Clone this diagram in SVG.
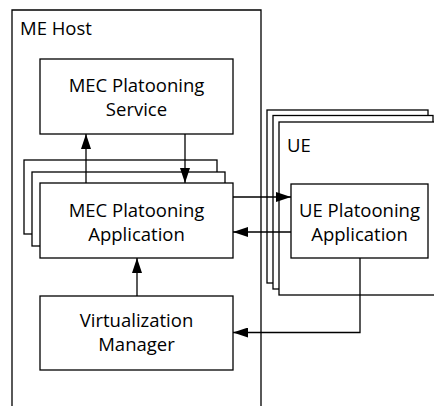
<svg xmlns="http://www.w3.org/2000/svg" width="434" height="406" viewBox="0 0 434 406">
<style>
.box{fill:#fff;stroke:#000;stroke-width:1.3}
.frame{fill:none;stroke:#000;stroke-width:1.3}
.t{font-family:"Open Sans","Liberation Sans",sans-serif;font-size:18.5px;fill:#000}
.c{text-anchor:middle}
.ln{fill:none;stroke:#000;stroke-width:1.3}
</style>
<defs>
<marker id="ah" viewBox="0 0 15 10" markerWidth="15" markerHeight="10" refX="15" refY="5" orient="auto" markerUnits="userSpaceOnUse">
<path d="M0,0 L15,5 L0,10 z" fill="#000"/>
</marker>
</defs>
<rect width="434" height="406" fill="#fff"/>
<g id="me-host">
<path class="frame" d="M12,410 V10 H261 V410"/>
<text class="t" x="20" y="35">ME Host</text>
</g>
<g id="ue">
<rect class="box" x="267" y="110" width="161" height="173"/>
<rect class="box" x="273" y="115.5" width="160" height="173.5"/>
<rect class="box" x="279" y="122" width="170" height="173"/>
<text class="t" x="287" y="152">UE</text>
</g>
<g id="mec-platooning-service">
<rect class="box" x="40" y="59" width="193" height="75"/>
<text class="t c" x="136.5" y="91.5">MEC Platooning</text>
<text class="t c" x="136.5" y="115.5">Service</text>
</g>
<g id="mec-platooning-application">
<rect class="box" x="24" y="160" width="193" height="74"/>
<rect class="box" x="32" y="172" width="193" height="74"/>
<rect class="box" x="40" y="183" width="193" height="75"/>
<text class="t c" x="136.5" y="216.5">MEC Platooning</text>
<text class="t c" x="136.5" y="240.5">Application</text>
</g>
<g id="virtualization-manager">
<rect class="box" x="40" y="296" width="193" height="74"/>
<text class="t c" x="136.5" y="326.5">Virtualization</text>
<text class="t c" x="136.5" y="351">Manager</text>
</g>
<g id="ue-platooning-application">
<rect class="box" x="291" y="184" width="137" height="74"/>
<text class="t c" x="359.5" y="216.5">UE Platooning</text>
<text class="t c" x="359.5" y="240.5">Application</text>
</g>
<g id="connectors">
<line class="ln" x1="86" y1="183" x2="86" y2="134" marker-end="url(#ah)"/>
<line class="ln" x1="185" y1="134" x2="185" y2="183" marker-end="url(#ah)"/>
<line class="ln" x1="137" y1="296" x2="137" y2="258" marker-end="url(#ah)"/>
<line class="ln" x1="233" y1="197" x2="291" y2="197" marker-end="url(#ah)"/>
<line class="ln" x1="291" y1="232" x2="233" y2="232" marker-end="url(#ah)"/>
<polyline class="ln" points="360,258 360,332.5 233,332.5" marker-end="url(#ah)"/>
</g>
</svg>
